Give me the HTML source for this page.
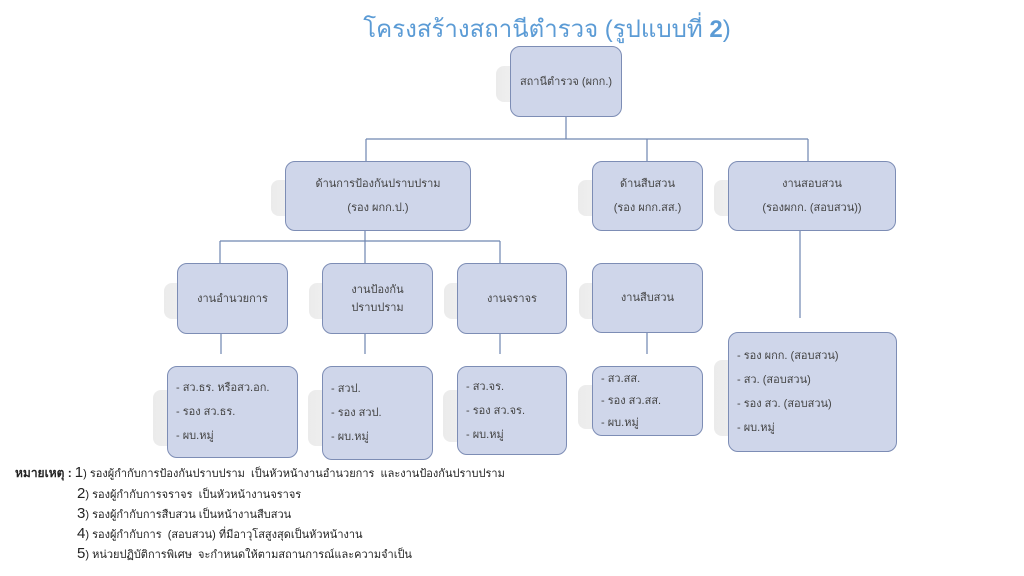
<!DOCTYPE html>
<html><head><meta charset="utf-8">
<style>
body{margin:0;width:1024px;height:576px;background:#fff;position:relative;overflow:hidden;font-family:"Liberation Sans","Noto Sans CJK SC",sans-serif;}
.b{position:absolute;box-sizing:border-box;background:#cfd6ea;border:1px solid #7d8db5;border-radius:10px;font-size:11px;color:#444;display:flex;flex-direction:column;justify-content:center;align-items:center;text-align:center;line-height:24px;}
.l{align-items:flex-start;text-align:left;padding-left:8px;line-height:24px;}
.s{position:absolute;background:linear-gradient(to right,rgba(230,230,230,0.8),rgba(245,245,245,0.4));border-radius:8px;}
.t{position:absolute;left:0;width:1094px;text-align:center;top:9px;font-size:24px;color:#5b9bd5;}
.n{position:absolute;font-size:11px;color:#222;white-space:nowrap;}
.n b{font-size:12px}
.n span{font-size:15px}
</style></head><body>
<div class="t">โครงสร้างสถานีตำรวจ (รูปแบบที่ <b>2</b>)</div>
<svg width="1024" height="576" style="position:absolute;left:0;top:0">
<g stroke="#6f86b0" stroke-width="1.2" fill="none">
<path d="M566 117V139M366 139H808M366 139V161M647 139V161M808 139V161"/>
<path d="M365 231V241M220 241H500M220 241V263M365 241V263M500 241V263"/>
<path d="M221 334V354M365 334V354M500 334V354M647 333V354M800 231V318"/>
</g></svg>
<div class="s" style="left:496px;top:66px;width:60px;height:36px"></div>
<div class="b" style="left:510px;top:46px;width:112px;height:71px">สถานีตำรวจ (ผกก.)</div>

<div class="s" style="left:271px;top:180px;width:60px;height:36px"></div>
<div class="b" style="left:285px;top:161px;width:186px;height:70px">ด้านการป้องกันปราบปราม<br>(รอง ผกก.ป.)</div>
<div class="s" style="left:578px;top:180px;width:60px;height:36px"></div>
<div class="b" style="left:592px;top:161px;width:111px;height:70px">ด้านสืบสวน<br>(รอง ผกก.สส.)</div>
<div class="s" style="left:714px;top:180px;width:60px;height:36px"></div>
<div class="b" style="left:728px;top:161px;width:168px;height:70px">งานสอบสวน<br>(รองผกก. (สอบสวน))</div>

<div class="s" style="left:164px;top:283px;width:60px;height:36px"></div>
<div class="b" style="left:177px;top:263px;width:111px;height:71px">งานอำนวยการ</div>
<div class="s" style="left:309px;top:283px;width:60px;height:36px"></div>
<div class="b" style="left:322px;top:263px;width:111px;height:71px;line-height:18px">งานป้องกัน<br>ปราบปราม</div>
<div class="s" style="left:444px;top:283px;width:60px;height:36px"></div>
<div class="b" style="left:457px;top:263px;width:110px;height:71px">งานจราจร</div>
<div class="s" style="left:579px;top:283px;width:60px;height:36px"></div>
<div class="b" style="left:592px;top:263px;width:111px;height:70px">งานสืบสวน</div>

<div class="s" style="left:153px;top:390px;width:100px;height:56px"></div>
<div class="b l" style="left:167px;top:366px;width:131px;height:92px">- สว.ธร. หรือสว.อก.<br>- รอง สว.ธร.<br>- ผบ.หมู่</div>
<div class="s" style="left:308px;top:390px;width:80px;height:56px"></div>
<div class="b l" style="left:322px;top:366px;width:111px;height:94px">- สวป.<br>- รอง สวป.<br>- ผบ.หมู่</div>
<div class="s" style="left:443px;top:390px;width:80px;height:52px"></div>
<div class="b l" style="left:457px;top:366px;width:110px;height:89px">- สว.จร.<br>- รอง สว.จร.<br>- ผบ.หมู่</div>
<div class="s" style="left:578px;top:385px;width:80px;height:44px"></div>
<div class="b l" style="left:592px;top:366px;width:111px;height:70px;line-height:22px">- สว.สส.<br>- รอง สว.สส.<br>- ผบ.หมู่</div>
<div class="s" style="left:714px;top:360px;width:110px;height:76px"></div>
<div class="b l" style="left:728px;top:332px;width:169px;height:120px">- รอง ผกก. (สอบสวน)<br>- สว. (สอบสวน)<br>- รอง สว. (สอบสวน)<br>- ผบ.หมู่</div>

<div class="n" style="left:15px;top:464px"><b>หมายเหตุ :</b> <span>1</span>) รองผู้กำกับการป้องกันปราบปราม &nbsp;เป็นหัวหน้างานอำนวยการ &nbsp;และงานป้องกันปราบปราม</div>
<div class="n" style="left:77px;top:485px"><span>2</span>) รองผู้กำกับการจราจร &nbsp;เป็นหัวหน้างานจราจร</div>
<div class="n" style="left:77px;top:505px"><span>3</span>) รองผู้กำกับการสืบสวน เป็นหน้างานสืบสวน</div>
<div class="n" style="left:77px;top:525px"><span>4</span>) รองผู้กำกับการ &nbsp;(สอบสวน) ที่มีอาวุโสสูงสุดเป็นหัวหน้างาน</div>
<div class="n" style="left:77px;top:545px"><span>5</span>) หน่วยปฏิบัติการพิเศษ &nbsp;จะกำหนดให้ตามสถานการณ์และความจำเป็น</div>
</body></html>
